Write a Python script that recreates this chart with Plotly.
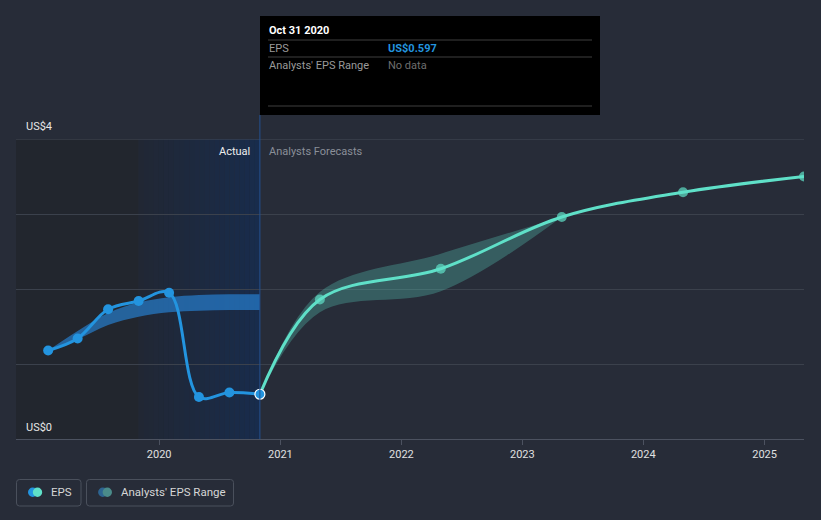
import plotly.graph_objects as go
import pandas as pd

# ---------------- data ----------------
actual_dates = ["2019-01-31", "2019-04-30", "2019-07-31", "2019-10-31",
                "2020-01-31", "2020-04-30", "2020-07-31", "2020-10-31"]
actual_eps = [1.18, 1.34, 1.73, 1.84, 1.95, 0.56, 0.62, 0.597]

hist_range_dates = ["2019-01-31", "2019-04-30", "2019-07-31", "2019-10-31",
                    "2020-01-31", "2020-04-30", "2020-07-31", "2020-10-31"]
hist_range_low = [1.18, 1.33, 1.52, 1.63, 1.69, 1.71, 1.72, 1.72]
hist_range_high = [1.18, 1.44, 1.68, 1.82, 1.89, 1.92, 1.93, 1.93]

forecast_dates = ["2020-10-31", "2021-04-30", "2022-04-30", "2023-04-30",
                  "2024-04-30", "2025-04-30"]
forecast_eps = [0.597, 1.86, 2.27, 2.96, 3.29, 3.50]

fc_range_dates = ["2020-10-31", "2021-04-30", "2022-04-30", "2023-04-30"]
fc_range_low = [0.597, 1.69, 1.97, 2.96]
fc_range_high = [0.597, 1.96, 2.47, 2.96]

year_ticks = ["2020-01-01", "2021-01-01", "2022-01-01", "2023-01-01",
              "2024-01-01", "2025-01-01"]
year_labels = ["2020", "2021", "2022", "2023", "2024", "2025"]
y_tick_labels = ["US$0", "US$4"]

# ---------------- style ----------------
BG = "#272c38"
BLUE = "#2394df"
TEAL = "#5fe0c8"
FONT = "Roboto"
GRID = "#3b414c"

W, H = 821, 520
L, R, T, B = 16, 17, 139, 81
PW, PH = W - L - R, H - T - B

x_end = pd.Timestamp("2025-04-30")
x_start = pd.Timestamp("2018-10-26")


def px(x):
    return (x - L) / PW


def py(y):
    return (H - B - y) / PH


fig = go.Figure()

# historical analyst band
fig.add_trace(go.Scatter(x=hist_range_dates, y=hist_range_low, mode="lines",
                         line=dict(width=0, shape="spline", color="rgba(0,0,0,0)"),
                         hoverinfo="skip", showlegend=False))
fig.add_trace(go.Scatter(x=hist_range_dates, y=hist_range_high, mode="lines",
                         line=dict(width=0, shape="spline", color="rgba(0,0,0,0)"),
                         fill="tonexty", fillcolor="rgba(40,140,230,0.6)",
                         hoverinfo="skip", showlegend=False))
# forecast band
fig.add_trace(go.Scatter(x=fc_range_dates, y=fc_range_low, mode="lines",
                         line=dict(width=0, shape="spline", color="rgba(0,0,0,0)"),
                         hoverinfo="skip", showlegend=False))
fig.add_trace(go.Scatter(x=fc_range_dates, y=fc_range_high, mode="lines",
                         line=dict(width=0, shape="spline", color="rgba(0,0,0,0)"),
                         fill="tonexty", fillcolor="rgba(95,224,200,0.28)",
                         hoverinfo="skip", showlegend=False))
# forecast line
fig.add_trace(go.Scatter(x=forecast_dates, y=forecast_eps, mode="lines+markers",
                         line=dict(width=3, shape="spline", color=TEAL),
                         marker=dict(size=[0] + [10] * (len(forecast_eps) - 1), color=TEAL,
                                     line=dict(width=0)),
                         showlegend=False))
# actual line
fig.add_trace(go.Scatter(x=actual_dates, y=actual_eps, mode="lines+markers",
                         line=dict(width=3, shape="spline", color=BLUE),
                         marker=dict(size=10, color=BLUE, line=dict(width=0)),
                         showlegend=False))
# last actual point highlighted
fig.add_trace(go.Scatter(x=actual_dates[-1:], y=actual_eps[-1:], mode="markers",
                         marker=dict(size=10, color=BLUE, line=dict(color="#ffffff", width=1.2)),
                         showlegend=False))

shapes = []
# dark past region
shapes.append(dict(type="rect", xref="x", yref="paper", x0=x_start, x1="2019-10-31",
                   y0=0, y1=1, fillcolor="#22262e", line=dict(width=0), layer="below"))
# blue gradient region
g0 = pd.Timestamp("2019-10-31")
g1 = pd.Timestamp("2020-10-31")
n = 24
c0 = (33, 39, 52)
c1 = (24, 44, 76)
for i in range(n):
    a = g0 + (g1 - g0) * i / n
    b = g0 + (g1 - g0) * (i + 1) / n
    t = (i + 0.5) / n
    c = tuple(int(round(c0[k] + (c1[k] - c0[k]) * t)) for k in range(3))
    shapes.append(dict(type="rect", xref="x", yref="paper", x0=a, x1=b, y0=0, y1=1,
                       fillcolor="rgb(%d,%d,%d)" % c, line=dict(width=0), layer="below"))
# top gridline (US$4)
shapes.append(dict(type="line", xref="paper", yref="y", x0=0, x1=1, y0=4, y1=4,
                   line=dict(color="#454b57", width=1), layer="above"))
# vertical hover line
shapes.append(dict(type="line", xref="x", yref="paper", x0="2020-10-31", x1="2020-10-31",
                   y0=0, y1=py(115), line=dict(color="#24508f", width=1), layer="above"))
# tooltip box
shapes.append(dict(type="rect", xref="paper", yref="paper", x0=px(260), x1=px(600),
                   y0=py(115), y1=py(16), fillcolor="#000000", line=dict(width=0)))
for yy in (40, 57, 106):
    shapes.append(dict(type="line", xref="paper", yref="paper", x0=px(268), x1=px(592),
                       y0=py(yy), y1=py(yy), line=dict(color="#3f3f3f", width=1)))


def rounded(x0, y0, x1, y1, r=3):
    # pixel coords -> paper path
    X0, X1 = px(x0), px(x1)
    Y0, Y1 = py(y0), py(y1)
    rx, ry = r / PW, r / PH
    return (f"M {X0+rx},{Y0} L {X1-rx},{Y0} Q {X1},{Y0} {X1},{Y0-ry} "
            f"L {X1},{Y1+ry} Q {X1},{Y1} {X1-rx},{Y1} L {X0+rx},{Y1} "
            f"Q {X0},{Y1} {X0},{Y1+ry} L {X0},{Y0-ry} Q {X0},{Y0} {X0+rx},{Y0} Z")


shapes.append(dict(type="path", xref="paper", yref="paper", path=rounded(16.5, 479.5, 81, 506),
                   line=dict(color="#4a505c", width=1)))
shapes.append(dict(type="path", xref="paper", yref="paper", path=rounded(86.5, 479.5, 233.5, 506),
                   line=dict(color="#4a505c", width=1)))


def circle(cx, cy, r, color):
    return dict(type="circle", xref="paper", yref="paper",
                x0=px(cx - r), x1=px(cx + r), y0=py(cy + r), y1=py(cy - r),
                fillcolor=color, line=dict(width=0))


shapes.append(circle(32.7, 492.3, 4.7, BLUE))
shapes.append(circle(37.5, 492.3, 4.7, TEAL))
shapes.append(circle(102.8, 492.3, 4.7, "#2d6491"))
shapes.append(circle(107.3, 492.3, 4.7, "#4a8b8a"))

annotations = []


def ann(text, x, y, color, size=11, xanchor="left", bold=False):
    annotations.append(dict(text=("<b>%s</b>" % text) if bold else text,
                            x=px(x), y=py(y), xref="paper", yref="paper",
                            xanchor=xanchor, yanchor="middle", showarrow=False,
                            font=dict(color=color, size=size, family=FONT)))


ann("Oct 31 2020", 267, 31, "#ffffff", 11, bold=True)
ann("EPS", 267, 48, "#9a9a9a", 11)
ann("US$0.597", 386, 48, BLUE, 11, bold=True)
ann("Analysts' EPS Range", 267, 65, "#9a9a9a", 11)
ann("No data", 386, 65, "#6e6e6e", 11)
ann("Actual", 252, 151, "#eeeeee", 11, xanchor="right")
ann("Analysts Forecasts", 267, 151, "#8a8f98", 11)
ann(y_tick_labels[1], 24, 127, "#e6e6e6", 11)
ann(y_tick_labels[0], 24, 427, "#e6e6e6", 11)
ann("EPS", 49, 492.5, "#d6d6d6", 11.5)
ann("Analysts' EPS Range", 119, 492.5, "#d6d6d6", 11.5)

fig.update_layout(
    width=W, height=H, autosize=False,
    margin=dict(l=L, r=R, t=T, b=B, pad=0),
    paper_bgcolor=BG, plot_bgcolor=BG,
    font=dict(family=FONT, color="#e0e0e0", size=11),
    showlegend=False,
    hovermode=False,
    shapes=shapes,
    annotations=annotations,
    xaxis=dict(type="date", range=[x_start, x_end], showgrid=False, zeroline=False,
               tickvals=year_ticks, ticktext=year_labels, ticks="outside", ticklen=5,
               tickcolor="#4c5260", showline=True, linecolor="#4c5260", linewidth=1,
               tickfont=dict(color="#e0e0e0", size=11, family=FONT)),
    yaxis=dict(range=[0, 4], showgrid=True, gridcolor=GRID, gridwidth=1,
               tickvals=[0, 1, 2, 3, 4], showticklabels=False, zeroline=False,
               showline=False, fixedrange=True),
)

fig.write_html(
    "out.html",
    config={"displayModeBar": False},
    post_script="document.body.style.margin='0';document.body.style.padding='0';"
                "document.body.style.background='%s';" % BG,
)
